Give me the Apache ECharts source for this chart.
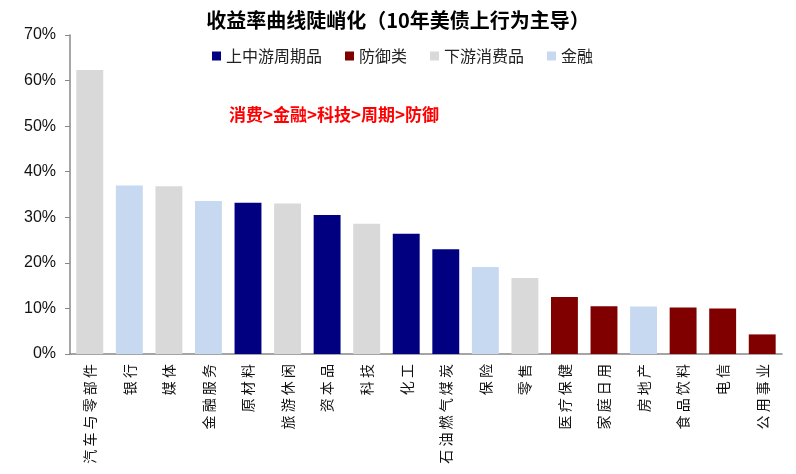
<!DOCTYPE html>
<html>
<head>
<meta charset="utf-8">
<script src="https://cdn.jsdelivr.net/npm/echarts@6/dist/echarts.min.js"></script>
<style>
  html, body { margin: 0; padding: 0; background: #fff; }
  #chart { width: 796px; height: 474px; }
</style>
</head>
<body>
<div id="chart"></div>
<script>
// categories, left to right
var categories = ['汽车与零部件', '银行', '媒体', '金融服务', '原材料', '旅游休闲', '资本品', '科技', '化工',
  '石油燃气煤炭', '保险', '零售', '医疗保健', '家庭日用', '房地产', '食品饮料', '电信', '公用事业']
// return, %
var values = [62.3, 37.0, 36.8, 33.6, 33.2, 33.0, 30.5, 28.6, 26.4, 23.0, 19.1, 16.7, 12.5, 10.5, 10.4, 10.2, 10.0, 4.3]
// group of each category
var groups = ['下游消费品', '金融', '下游消费品', '金融', '上中游周期品', '下游消费品', '上中游周期品', '下游消费品', '上中游周期品',
  '上中游周期品', '金融', '下游消费品', '防御类', '防御类', '金融', '防御类', '防御类', '防御类']
var groupNames = ['上中游周期品', '防御类', '下游消费品', '金融']
var groupColors = ['#000080', '#800000', '#d9d9d9', '#c6d9f1']
var yTicks = [0, 10, 20, 30, 40, 50, 60, 70]

var chart = echarts.init(document.getElementById('chart'))

let series = groupNames.map(function (g, i) {
  return {
    name: g,
    type: 'bar',
    stack: 'all',
    barWidth: '68%',
    itemStyle: { color: groupColors[i] },
    data: values.map(function (v, k) { return groups[k] === g ? v : '-' })
  }
})

chart.setOption({
  animation: false,
  title: {
    text: '收益率曲线陡峭化（10年美债上行为主导）',
    left: 'center',
    top: 5,
    textStyle: { fontSize: 20, fontWeight: 'bold', color: '#000', fontFamily: 'Noto Sans CJK SC' }
  },
  legend: {
    data: groupNames,
    top: 43,
    left: 207,
    itemWidth: 9,
    itemHeight: 9,
    itemGap: 23,
    icon: 'rect',
    textStyle: { fontSize: 16, color: '#222', fontFamily: 'Noto Sans CJK SC' }
  },
  graphic: [{
    type: 'text',
    left: 229,
    top: 106,
    style: {
      text: '消费>金融>科技>周期>防御',
      fill: '#ff0000',
      font: 'bold 17px "Noto Sans CJK SC"'
    }
  }],
  grid: { left: 70, right: 14, top: 35, bottom: 120 },
  xAxis: {
    type: 'category',
    data: categories,
    axisLine: { lineStyle: { color: '#888', width: 1.5 } },
    axisTick: { alignWithLabel: false, length: 5, lineStyle: { color: '#888' } },
    axisLabel: {
      interval: 0,
      rotate: 90,
      margin: 10,
      fontSize: 14,
      color: '#111',
      fontFamily: 'Noto Sans CJK SC',
      formatter: function (s) { return s.split('').join(' ') }
    }
  },
  yAxis: {
    type: 'value',
    min: 0,
    max: 70,
    interval: 10,
    splitLine: { show: false },
    axisLine: { show: true, lineStyle: { color: '#888', width: 1.5 } },
    axisTick: { show: true, length: 5, lineStyle: { color: '#888' } },
    axisLabel: {
      fontSize: 16,
      color: '#111',
      fontFamily: 'Liberation Sans',
      margin: 14,
      formatter: function (v) { return yTicks.indexOf(v) >= 0 ? v + '%' : '' }
    }
  },
  series: series
})
</script>
</body>
</html>
